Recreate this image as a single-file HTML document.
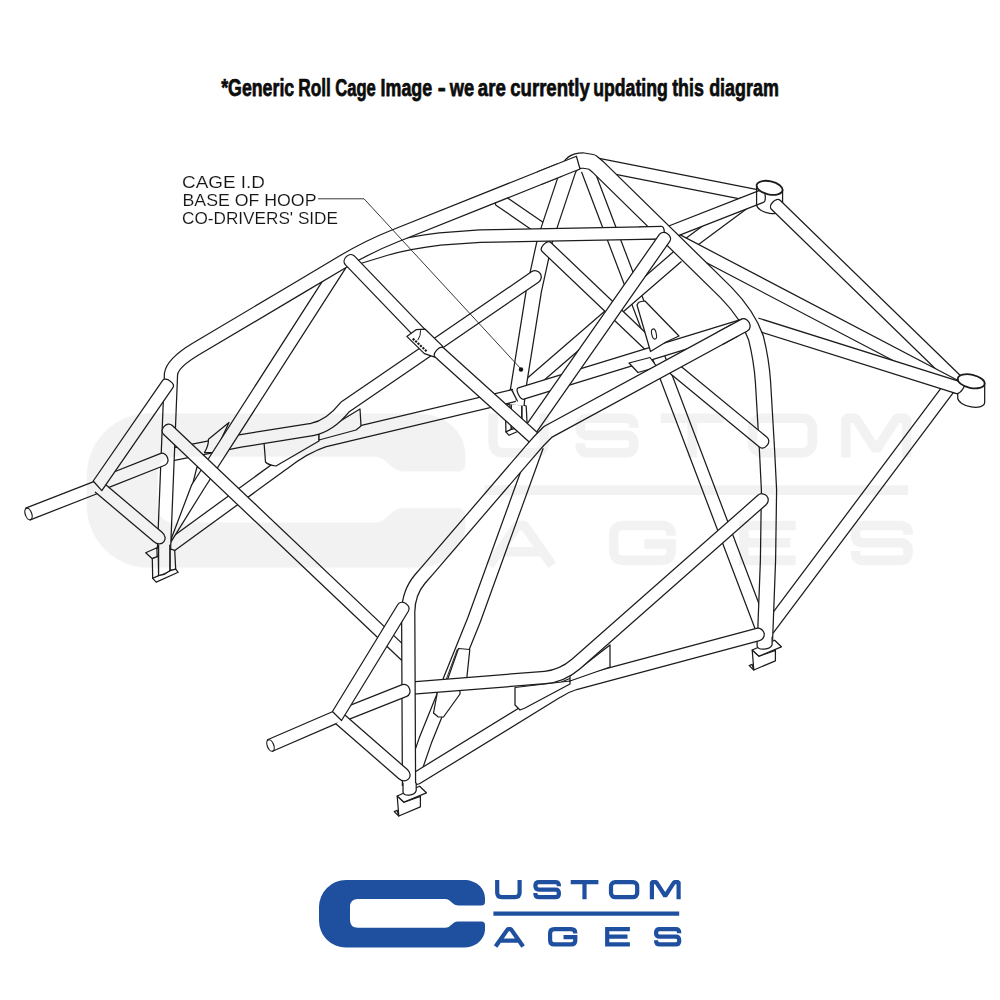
<!DOCTYPE html>
<html>
<head>
<meta charset="utf-8">
<title>Generic Roll Cage Image</title>
<style>
  html, body { margin: 0; padding: 0; background: #ffffff; }
  body { width: 1000px; height: 1000px; overflow: hidden; font-family: "Liberation Sans", sans-serif; }
  svg { display: block; }
  text { font-family: "Liberation Sans", sans-serif; }
</style>
</head>
<body>
<svg width="1000" height="1000" viewBox="0 0 1000 1000">
  <defs>
    <path id="logoC" d="M346 880 H464 C476 880 485 888 485 898 V902 Q485 905.4 481.5 905.4 H458 C452 905.4 451 899 445 899 H358 Q350 899 350 907 V920 Q350 927.8 358 927.8 H445 C451 927.8 452 921.4 458 921.4 H481.5 Q485 921.4 485 925 V929 C485 939 476 947.6 464 947.6 H346 A27 27 0 0 1 319 920.6 V907 A27 27 0 0 1 346 880 Z"/>
    <g id="logoT" fill="none" stroke-width="4.2" stroke-linejoin="miter" stroke-linecap="butt">
      <!-- USTOM -->
      <path d="M497.2 880 V892.6 Q497.2 897.2 501.8 897.2 H515 Q519.6 897.2 519.6 892.6 V880"/>
      <path d="M558.9 886.2 V885.6 Q558.9 882.1 555.4 882.1 H538.9 Q535.4 882.1 535.4 885.6 V886.1 Q535.4 889.6 538.9 889.6 H555.4 Q558.9 889.6 558.9 893.1 V893.7 Q558.9 897.2 555.4 897.2 H538.9 Q535.4 897.2 535.4 893.7 V893"/>
      <path d="M570.7 882.1 H598.4 M584.5 882.1 V899.3"/>
      <rect x="611" y="882.1" width="26.2" height="15.1" rx="4.2" ry="4.2"/>
      <path d="M651.9 899.3 V882.1 H656.2 L665.2 896 L674.2 882.1 H678.6 V899.3" stroke-linejoin="bevel"/>
      <!-- rule -->
      <path d="M493.4 913.6 H679.2"/>
      <!-- AGES -->
      <path d="M495.6 946.5 L507.8 929.1 H510.9 L523.1 946.5 M500.5 940.6 H518.2" stroke-linejoin="bevel"/>
      <path d="M575.3 933.6 V933.3 Q575.3 929.1 571.1 929.1 H554.3 Q550.1 929.1 550.1 933.3 V940.2 Q550.1 944.4 554.3 944.4 H571.1 Q575.3 944.4 575.3 940.2 V937.2 H563.5"/>
      <path d="M629.9 929.1 H607.2 V944.4 H629.9 M607.2 936.7 H627.5"/>
      <path d="M679.2 933.2 V932.6 Q679.2 929.1 675.7 929.1 H659.6 Q656.1 929.1 656.1 932.6 V933.2 Q656.1 936.7 659.6 936.7 H675.7 Q679.2 936.7 679.2 940.2 V940.9 Q679.2 944.4 675.7 944.4 H659.6 Q656.1 944.4 656.1 940.9 V940.3"/>
    </g>
  </defs>

  <rect x="0" y="0" width="1000" height="1000" fill="#ffffff"/>

  <!-- heading -->
  <g font-size="24.2" font-weight="700" fill="#0c0c0c" stroke="#0c0c0c" stroke-width="0.75" stroke-linejoin="round">
    <text x="221.2" y="96" textLength="73.0" lengthAdjust="spacingAndGlyphs">*Generic</text>
    <text x="298.2" y="96" textLength="32.6" lengthAdjust="spacingAndGlyphs">Roll</text>
    <text x="335.2" y="96" textLength="40.6" lengthAdjust="spacingAndGlyphs">Cage</text>
    <text x="380.6" y="96" textLength="51.6" lengthAdjust="spacingAndGlyphs">Image</text>
    <text x="437.8" y="96" textLength="8.0" lengthAdjust="spacingAndGlyphs">-</text>
    <text x="449.8" y="96" textLength="24.4" lengthAdjust="spacingAndGlyphs">we</text>
    <text x="477.8" y="96" textLength="28.0" lengthAdjust="spacingAndGlyphs">are</text>
    <text x="510.2" y="96" textLength="79.6" lengthAdjust="spacingAndGlyphs">currently</text>
    <text x="593.2" y="96" textLength="74.6" lengthAdjust="spacingAndGlyphs">updating</text>
    <text x="672.2" y="96" textLength="31.6" lengthAdjust="spacingAndGlyphs">this</text>
    <text x="709.2" y="96" textLength="69.6" lengthAdjust="spacingAndGlyphs">diagram</text>
  </g>

  <!-- cage -->
  <g id="cage">
<path d="M596.79 170.63 L758.79 202.53 L761.21 190.27 L599.21 158.37 Z" fill="#fff" stroke="none"/>
<path d="M596.79 170.63 L758.79 202.53 M761.21 190.27 L599.21 158.37 " fill="none" stroke="#1c1c1c" stroke-width="1.25" stroke-linejoin="round" stroke-linecap="round"/>
<path d="M687.72 252.52 L747.72 208.02 L740.28 197.98 L680.28 242.48 Z" fill="#fff" stroke="none"/>
<path d="M687.72 252.52 L747.72 208.02 M740.28 197.98 L680.28 242.48 " fill="none" stroke="#1c1c1c" stroke-width="1.25" stroke-linejoin="round" stroke-linecap="round"/>
<path d="M756.62 185.75 L756.62 204.75 A13.2 6.6 12 0 0 782.58 208.85 L782.58 189.85 Z" fill="#fff" stroke="#1c1c1c" stroke-width="1.25" stroke-linejoin="round"/>
<path d="M666.28 240.42 L763.38 202.37 C766.88 201.00 765.11 188.27 761.62 189.63 L661.72 228.78 Z" fill="#fff" stroke="none"/>
<path d="M666.28 240.42 L763.38 202.37 C766.88 201.00 765.11 188.27 761.62 189.63 L661.72 228.78 " fill="none" stroke="#1c1c1c" stroke-width="1.25" stroke-linejoin="round" stroke-linecap="round"/>
<ellipse cx="769.6" cy="187.8" rx="13.2" ry="6.6" transform="rotate(12 769.6 187.8)" fill="#fff" stroke="#1c1c1c" stroke-width="1.8"/>
<path d="M756.6 186.0 L756.6 204.5" fill="none" stroke="#1c1c1c" stroke-width="1.25" stroke-linecap="round" stroke-linejoin="round"/>
<path d="M771.64 209.48 L953.64 386.48 L962.36 377.52 L780.36 200.52 C776.18 196.45 767.46 205.41 771.64 209.48Z" fill="#fff" stroke="none"/>
<path d="M771.64 209.48 L953.64 386.48 M962.36 377.52 L780.36 200.52 C776.18 196.45 767.46 205.41 771.64 209.48" fill="none" stroke="#1c1c1c" stroke-width="1.25" stroke-linejoin="round" stroke-linecap="round"/>
<path d="M674.47 245.97 L955.10 393.04 L960.90 381.96 L680.27 234.89 Z" fill="#fff" stroke="none"/>
<path d="M674.47 245.97 L955.10 393.04 M960.90 381.96 L680.27 234.89 " fill="none" stroke="#1c1c1c" stroke-width="1.25" stroke-linejoin="round" stroke-linecap="round"/>
<path d="M943.10 385.45 L763.30 625.35 L773.30 632.85 L953.10 392.95 Z" fill="#fff" stroke="none"/>
<path d="M943.10 385.45 L763.30 625.35 M773.30 632.85 L953.10 392.95 " fill="none" stroke="#1c1c1c" stroke-width="1.25" stroke-linejoin="round" stroke-linecap="round"/>
<path d="M957.73 379.12 L957.73 398.12 A13.7 6.6 12 0 0 984.67 402.48 L984.67 383.48 Z" fill="#fff" stroke="#1c1c1c" stroke-width="1.25" stroke-linejoin="round"/>
<path d="M755.12 330.16 L955.71 393.36 C960.09 394.74 967.66 384.02 963.29 382.64 L758.88 318.24 Z" fill="#fff" stroke="none"/>
<path d="M755.12 330.16 L955.71 393.36 C960.09 394.74 967.66 384.02 963.29 382.64 L758.88 318.24 " fill="none" stroke="#1c1c1c" stroke-width="1.25" stroke-linejoin="round" stroke-linecap="round"/>
<ellipse cx="971.2" cy="381.3" rx="13.7" ry="6.6" transform="rotate(12 971.2 381.3)" fill="#fff" stroke="#1c1c1c" stroke-width="1.8"/>
<path d="M581.66 172.22 L757.16 634.22 L768.84 629.78 L593.34 167.78 Z" fill="#fff" stroke="none"/>
<path d="M581.66 172.22 L757.16 634.22 M768.84 629.78 L593.34 167.78 " fill="none" stroke="#1c1c1c" stroke-width="1.25" stroke-linejoin="round" stroke-linecap="round"/>
<path d="M672.91 252.27 L517.91 386.27 L526.09 395.73 L681.09 261.73 Z" fill="#fff" stroke="none"/>
<path d="M672.91 252.27 L517.91 386.27 M526.09 395.73 L681.09 261.73 " fill="none" stroke="#1c1c1c" stroke-width="1.25" stroke-linejoin="round" stroke-linecap="round"/>
<path d="M521.9 404.7 L526.2 406.0 L527.1 423.4 L521.9 424.7 Z" fill="#fff" stroke="#1c1c1c" stroke-width="1.25" stroke-linejoin="round" stroke-linecap="round"/>
<path d="M505.9 431.8 L511.3 429.2 L521.9 424.7 L527.1 423.4 L529.4 426.3 L509.1 435.3 Z" fill="#fff" stroke="#1c1c1c" stroke-width="1.25" stroke-linejoin="round" stroke-linecap="round"/>
<path d="M499.5 408.2 L509.8 403.7 L510.1 412.2 L505.6 413.8 Z" fill="#fff" stroke="#1c1c1c" stroke-width="1.25" stroke-linejoin="round" stroke-linecap="round"/>
<path d="M505.6 413.8 L511.1 411.5 L511.3 429.2 L505.9 431.8 Z" fill="#fff" stroke="#1c1c1c" stroke-width="1.25" stroke-linejoin="round" stroke-linecap="round"/>
<path d="M511.3 401.2 L511.3 429.3 L521.7 424.8 L521.7 401.2 Z" fill="#fff" stroke="none"/>
<path d="M511.3 401.2 L511.3 429.3" fill="none" stroke="#1c1c1c" stroke-width="1.25" stroke-linecap="round" stroke-linejoin="round"/>
<path d="M521.7 424.8 L521.7 401.2" fill="none" stroke="#1c1c1c" stroke-width="1.25" stroke-linecap="round" stroke-linejoin="round"/>
<path d="M511.3 429.3 L516.5 428.2 L521.7 424.8" fill="none" stroke="#1c1c1c" stroke-width="1.25" stroke-linecap="round" stroke-linejoin="round"/>
<path d="M495.96 205.15 L542.46 237.15 L549.54 226.85 L503.04 194.85 C500.64 193.20 493.55 203.50 495.96 205.15Z" fill="#fff" stroke="none"/>
<path d="M495.96 205.15 L542.46 237.15 M549.54 226.85 L503.04 194.85 C500.64 193.20 493.55 203.50 495.96 205.15" fill="none" stroke="#1c1c1c" stroke-width="1.25" stroke-linejoin="round" stroke-linecap="round"/>
<path d="M516.5 405.0 L518.0 390.0 L534.0 290.0 L545.0 240.0 L550.0 225.0 L565.0 180.0 L568.0 171.0 Q571.0 160.5 583.0 160.5 L592.0 162.0 L598.0 167.0 L726.0 292.5 Q748.0 315.0 756.0 338.0 Q761.5 360.0 763.0 382.0 L767.0 450.0 L769.0 490.0 L768.0 560.0 L765.0 640.0" fill="none" stroke="#1c1c1c" stroke-width="16.45" stroke-linecap="butt" stroke-linejoin="round"/>
<path d="M516.5 405.0 L518.0 390.0 L534.0 290.0 L545.0 240.0 L550.0 225.0 L565.0 180.0 L568.0 171.0 Q571.0 160.5 583.0 160.5 L592.0 162.0 L598.0 167.0 L726.0 292.5 Q748.0 315.0 756.0 338.0 Q761.5 360.0 763.0 382.0 L767.0 450.0 L769.0 490.0 L768.0 560.0 L765.0 640.0" fill="none" stroke="#fff" stroke-width="13.95" stroke-linecap="butt" stroke-linejoin="round"/>
<path d="M749.2 665.6 L752.2 664.4 L753.8 670.0 Z" fill="#fff" stroke="#1c1c1c" stroke-width="1.25" stroke-linejoin="round" stroke-linecap="round"/>
<path d="M752.2 650.0 L759.0 656.2 L775.4 650.3 L775.4 660.8 L753.8 670.0 Z" fill="#fff" stroke="#1c1c1c" stroke-width="1.25" stroke-linejoin="round" stroke-linecap="round"/>
<path d="M752.2 650.0 L774.6 640.2 L781.4 646.8 L759.0 656.2 Z" fill="#fff" stroke="#1c1c1c" stroke-width="1.25" stroke-linejoin="round" stroke-linecap="round"/>
<path d="M757.10 637.20 L757.10 646.00 C757.60 650.40 770.60 650.20 772.10 644.60 L772.10 637.20 Z" fill="#fff" stroke="none"/>
<path d="M757.10 637.20 L757.10 646.00 C757.60 650.40 770.60 650.20 772.10 644.60 L772.10 637.20" fill="none" stroke="#1c1c1c" stroke-width="1.25" stroke-linejoin="round" stroke-linecap="round"/>
<path d="M542.19 251.53 L647.69 352.03 L656.31 342.97 L550.81 242.47 C547.19 239.03 538.57 248.08 542.19 251.53Z" fill="#fff" stroke="none"/>
<path d="M542.19 251.53 L647.69 352.03 M656.31 342.97 L550.81 242.47 C547.19 239.03 538.57 248.08 542.19 251.53" fill="none" stroke="#1c1c1c" stroke-width="1.25" stroke-linejoin="round" stroke-linecap="round"/>
<path d="M523.79 399.18 L745.84 330.97 C752.61 328.89 748.94 316.95 742.16 319.03 L518.21 387.82 C514.62 388.92 520.21 400.28 523.79 399.18Z" fill="#fff" stroke="none"/>
<path d="M523.79 399.18 L745.84 330.97 C752.61 328.89 748.94 316.95 742.16 319.03 L518.21 387.82 C514.62 388.92 520.21 400.28 523.79 399.18" fill="none" stroke="#1c1c1c" stroke-width="1.25" stroke-linejoin="round" stroke-linecap="round"/>
<path d="M637.0 305.0 Q638.0 302.0 641.0 301.5 L645.0 301.0 L679.0 336.0 L666.0 342.0 L650.5 351.5 Z" fill="#fff" stroke="#1c1c1c" stroke-width="1.25" stroke-linejoin="round" stroke-linecap="round"/>
<ellipse cx="654" cy="334" rx="2.3" ry="5.2" transform="rotate(-12 654 334)" fill="#fff" stroke="#1c1c1c" stroke-width="1.1"/>
<path d="M629.0 363.0 L650.0 357.5 L657.0 367.0 L638.0 372.5 Z" fill="#fff" stroke="#1c1c1c" stroke-width="1.25" stroke-linejoin="round" stroke-linecap="round"/>
<path d="M668.02 371.82 L759.02 446.82 C764.49 451.33 772.44 441.68 766.98 437.18 L675.98 362.18 Z" fill="#fff" stroke="none"/>
<path d="M668.02 371.82 L759.02 446.82 C764.49 451.33 772.44 441.68 766.98 437.18 L675.98 362.18 L668.02 371.82" fill="none" stroke="#1c1c1c" stroke-width="1.25" stroke-linejoin="round" stroke-linecap="round"/>
<path d="M349.0 260.5 L385.0 249.5 Q410.0 242.5 440.0 239.0 L480.0 236.2 L655.0 232.8" fill="none" stroke="#1c1c1c" stroke-width="13.75" stroke-linecap="butt" stroke-linejoin="round"/>
<path d="M349.0 260.5 L385.0 249.5 Q410.0 242.5 440.0 239.0 L480.0 236.2 L655.0 232.8" fill="none" stroke="#fff" stroke-width="11.25" stroke-linecap="butt" stroke-linejoin="round"/>
<path d="M640.12 239.35 L661.62 238.95 C665.37 238.88 665.13 226.38 661.38 226.45 L639.88 226.85 Z" fill="#fff" stroke="none"/>
<path d="M640.12 239.35 L661.62 238.95 C665.37 238.88 665.13 226.38 661.38 226.45 L639.88 226.85 " fill="none" stroke="#1c1c1c" stroke-width="1.25" stroke-linejoin="round" stroke-linecap="round"/>
<path d="M659.38 234.42 L523.88 428.42 L534.12 435.58 L669.62 241.58 C673.68 235.77 663.43 228.61 659.38 234.42Z" fill="#fff" stroke="none"/>
<path d="M659.38 234.42 L523.88 428.42 M534.12 435.58 L669.62 241.58 C673.68 235.77 663.43 228.61 659.38 234.42" fill="none" stroke="#1c1c1c" stroke-width="1.25" stroke-linejoin="round" stroke-linecap="round"/>
<path d="M169.0 547.0 L283.0 464.0 Q305.0 447.0 325.0 440.5 L514.4 395.4" fill="none" stroke="#1c1c1c" stroke-width="13.75" stroke-linecap="butt" stroke-linejoin="round"/>
<path d="M169.0 547.0 L283.0 464.0 Q305.0 447.0 325.0 440.5 L514.4 395.4" fill="none" stroke="#fff" stroke-width="11.25" stroke-linecap="butt" stroke-linejoin="round"/>
<path d="M511.4 389.4 L517.4 401.0" fill="none" stroke="#1c1c1c" stroke-width="1.25" stroke-linecap="round" stroke-linejoin="round"/>
<path d="M264.0 442.0 L319.0 433.0 L319.0 441.0 L276.0 466.0 Q268.0 465.0 265.5 462.0 Z" fill="#fff" stroke="#1c1c1c" stroke-width="1.25" stroke-linejoin="round" stroke-linecap="round"/>
<path d="M319.0 434.0 L360.0 409.0 L361.0 426.0 L356.0 430.0 L319.0 440.0 Z" fill="#fff" stroke="#1c1c1c" stroke-width="1.25" stroke-linejoin="round" stroke-linecap="round"/>
<path d="M172.0 454.5 L240.0 441.0 L312.0 429.5 Q330.0 426.0 345.0 407.0 L535.0 277.0" fill="none" stroke="#1c1c1c" stroke-width="13.75" stroke-linecap="round" stroke-linejoin="round"/>
<path d="M172.0 454.5 L240.0 441.0 L312.0 429.5 Q330.0 426.0 345.0 407.0 L535.0 277.0" fill="none" stroke="#fff" stroke-width="11.25" stroke-linecap="round" stroke-linejoin="round"/>
<path d="M229.0 422.5 L208.5 439.3 Q208.5 446.0 204.5 452.5 L215.0 452.5 Z" fill="#fff" stroke="#1c1c1c" stroke-width="1.25" stroke-linejoin="round" stroke-linecap="round"/>
<path d="M197.0 467.0 L192.8 483.4 L204.0 470.0 Z" fill="#fff" stroke="#1c1c1c" stroke-width="1.25" stroke-linejoin="round" stroke-linecap="round"/>
<path d="M334.98 261.57 L191.74 484.72 L202.26 491.48 L345.50 268.33 Z" fill="#fff" stroke="none"/>
<path d="M334.98 261.57 L191.74 484.72 M202.26 491.48 L345.50 268.33 " fill="none" stroke="#1c1c1c" stroke-width="1.25" stroke-linejoin="round" stroke-linecap="round"/>
<path d="M191.7 484.7 L168.8 545.3 L202.3 491.5 Z" fill="#fff" stroke="none"/>
<path d="M191.7 484.7 L168.8 545.3 L202.3 491.5" fill="none" stroke="#1c1c1c" stroke-width="1.25" stroke-linecap="round" stroke-linejoin="round"/>
<path d="M164.0 549.0 L171.0 374.0 Q172.5 363.0 196.0 348.9 L300.0 287.2 L344.0 261.0 Q368.3 246.5 395.0 235.9 L560.0 169.9" fill="none" stroke="#1c1c1c" stroke-width="14.45" stroke-linecap="butt" stroke-linejoin="round"/>
<path d="M164.0 549.0 L171.0 374.0 Q172.5 363.0 196.0 348.9 L300.0 287.2 L344.0 261.0 Q368.3 246.5 395.0 235.9 L560.0 169.9" fill="none" stroke="#fff" stroke-width="11.95" stroke-linecap="butt" stroke-linejoin="round"/>
<path d="M542.45 184.03 L580.00 168.99 L576.40 156.21 L537.55 171.77 Z" fill="#fff" stroke="none"/>
<path d="M542.45 184.03 L580.00 168.99 L576.40 156.21 L537.55 171.77 " fill="none" stroke="#1c1c1c" stroke-width="1.25" stroke-linejoin="round" stroke-linecap="round"/>
<path d="M170.1 548.9 L174.7 550.3 L175.7 569.2 L170.1 570.6 Z" fill="#fff" stroke="#1c1c1c" stroke-width="1.25" stroke-linejoin="round" stroke-linecap="round"/>
<path d="M152.7 578.3 L158.6 575.5 L170.1 570.6 L175.7 569.2 L178.2 572.3 L156.2 582.1 Z" fill="#fff" stroke="#1c1c1c" stroke-width="1.25" stroke-linejoin="round" stroke-linecap="round"/>
<path d="M145.7 552.7 L156.9 547.8 L157.2 557.0 L152.3 558.7 Z" fill="#fff" stroke="#1c1c1c" stroke-width="1.25" stroke-linejoin="round" stroke-linecap="round"/>
<path d="M152.3 558.7 L158.3 556.2 L158.6 575.5 L152.7 578.3 Z" fill="#fff" stroke="#1c1c1c" stroke-width="1.25" stroke-linejoin="round" stroke-linecap="round"/>
<path d="M158.6 545.0 L158.6 575.6 L169.8 570.7 L169.8 545.0 Z" fill="#fff" stroke="none"/>
<path d="M158.6 545.0 L158.6 575.6" fill="none" stroke="#1c1c1c" stroke-width="1.25" stroke-linecap="round" stroke-linejoin="round"/>
<path d="M169.8 570.7 L169.8 545.0" fill="none" stroke="#1c1c1c" stroke-width="1.25" stroke-linecap="round" stroke-linejoin="round"/>
<path d="M158.6 575.6 L164.2 574.4 L169.8 570.7" fill="none" stroke="#1c1c1c" stroke-width="1.25" stroke-linecap="round" stroke-linejoin="round"/>
<path d="M345.49 264.83 L432.49 355.33 L441.51 346.67 L354.51 256.17 C349.60 251.06 340.59 259.72 345.49 264.83Z" fill="#fff" stroke="none"/>
<path d="M345.49 264.83 L432.49 355.33 M441.51 346.67 L354.51 256.17 C349.60 251.06 340.59 259.72 345.49 264.83" fill="none" stroke="#1c1c1c" stroke-width="1.25" stroke-linejoin="round" stroke-linecap="round"/>
<path d="M406.8 336.4 L416.4 329.6 L425.2 329.2 L442.8 346.4 L434.8 357.2 L424.4 353.6 Z" fill="#fff" stroke="#1c1c1c" stroke-width="1.25" stroke-linejoin="round" stroke-linecap="round"/>
<path d="M418.0 339.8 Q420.8 336.0 420.6 330.6" fill="none" stroke="#1c1c1c" stroke-width="1.00" stroke-linecap="round" stroke-linejoin="round"/>
<path d="M412.8 338.6 L426.6 351.2" stroke="#1c1c1c" stroke-width="2.2" stroke-dasharray="2.2 1.1" fill="none"/>
<path d="M435.31 357.24 L532.54 444.95 L540.91 435.67 L443.69 347.96 C439.97 344.61 431.60 353.89 435.31 357.24Z" fill="#fff" stroke="none"/>
<path d="M435.31 357.24 L532.54 444.95 M540.91 435.67 L443.69 347.96 C439.97 344.61 431.60 353.89 435.31 357.24" fill="none" stroke="#1c1c1c" stroke-width="1.25" stroke-linejoin="round" stroke-linecap="round"/>
<path d="M163.70 434.53 L401.33 659.98 L409.93 650.91 L172.30 425.47 C167.16 420.59 158.56 429.66 163.70 434.53Z" fill="#fff" stroke="none"/>
<path d="M163.70 434.53 L401.33 659.98 M409.93 650.91 L172.30 425.47 C167.16 420.59 158.56 429.66 163.70 434.53" fill="none" stroke="#1c1c1c" stroke-width="1.25" stroke-linejoin="round" stroke-linecap="round"/>
<path d="M30.28 519.82 L100.88 492.22 L96.32 480.58 L25.72 508.18 Z" fill="#fff" stroke="none"/>
<path d="M30.28 519.82 L100.88 492.22 M96.32 480.58 L25.72 508.18 " fill="none" stroke="#1c1c1c" stroke-width="1.25" stroke-linejoin="round" stroke-linecap="round"/>
<ellipse cx="28.5" cy="514" rx="3.2" ry="6.0" transform="rotate(-20 28.5 514)" fill="#fff" stroke="#1c1c1c" stroke-width="1.25"/>
<path d="M103.30 489.61 L164.80 465.21 C171.39 462.60 166.78 450.98 160.20 453.59 L98.70 477.99 Z" fill="#fff" stroke="none"/>
<path d="M103.30 489.61 L164.80 465.21 C171.39 462.60 166.78 450.98 160.20 453.59 L98.70 477.99 " fill="none" stroke="#1c1c1c" stroke-width="1.25" stroke-linejoin="round" stroke-linecap="round"/>
<path d="M95.37 492.27 L153.97 541.77 C161.61 548.23 169.67 538.68 162.03 532.23 L103.43 482.73 Z" fill="#fff" stroke="none"/>
<path d="M95.37 492.27 L153.97 541.77 C161.61 548.23 169.67 538.68 162.03 532.23 L103.43 482.73 " fill="none" stroke="#1c1c1c" stroke-width="1.25" stroke-linejoin="round" stroke-linecap="round"/>
<path d="M101.79 490.59 L172.94 387.55 C175.78 383.44 165.50 376.33 162.66 380.45 L93.21 481.01 Z" fill="#fff" stroke="none"/>
<path d="M101.79 490.59 L172.94 387.55 C175.78 383.44 165.50 376.33 162.66 380.45 L93.21 481.01 L101.79 490.59" fill="none" stroke="#1c1c1c" stroke-width="1.25" stroke-linejoin="round" stroke-linecap="round"/>
<path d="M412.0 779.0 L425.5 740.0 L474.0 620.0 L537.0 446.0" fill="none" stroke="#1c1c1c" stroke-width="14.45" stroke-linecap="butt" stroke-linejoin="round"/>
<path d="M412.0 779.0 L425.5 740.0 L474.0 620.0 L537.0 446.0" fill="none" stroke="#fff" stroke-width="11.95" stroke-linecap="butt" stroke-linejoin="round"/>
<path d="M457.2 649.5 L446.0 680.0" fill="none" stroke="#1c1c1c" stroke-width="0.90" stroke-linecap="round" stroke-linejoin="round"/>
<path d="M440.0 696.0 L434.5 711.0" fill="none" stroke="#1c1c1c" stroke-width="0.90" stroke-linecap="round" stroke-linejoin="round"/>
<path d="M458.5 648.5 L469.8 649.5 L466.6 680.0 L447.0 681.0 Z" fill="#fff" stroke="#1c1c1c" stroke-width="1.25" stroke-linejoin="round" stroke-linecap="round"/>
<path d="M438.0 689.0 L460.0 689.0 L460.0 694.0 L443.5 717.0 L438.0 716.8 L433.5 713.0 Z" fill="#fff" stroke="#1c1c1c" stroke-width="1.25" stroke-linejoin="round" stroke-linecap="round"/>
<path d="M417.0 778.0 L557.0 692.0 Q565.0 686.5 575.0 683.5 L758.0 634.5" fill="none" stroke="#1c1c1c" stroke-width="13.75" stroke-linecap="round" stroke-linejoin="round"/>
<path d="M417.0 778.0 L557.0 692.0 Q565.0 686.5 575.0 683.5 L758.0 634.5" fill="none" stroke="#fff" stroke-width="11.25" stroke-linecap="round" stroke-linejoin="round"/>
<path d="M515.0 687.5 L570.0 681.0 L570.0 684.0 L525.0 708.0 L520.0 710.0 L515.0 705.0 Z" fill="#fff" stroke="#1c1c1c" stroke-width="1.25" stroke-linejoin="round" stroke-linecap="round"/>
<path d="M570.0 676.0 L610.0 645.0 L610.0 667.0 L570.0 681.0 Z" fill="#fff" stroke="#1c1c1c" stroke-width="1.25" stroke-linejoin="round" stroke-linecap="round"/>
<path d="M413.0 688.0 L545.0 677.5 Q562.0 676.0 576.0 664.0 L762.0 500.0" fill="none" stroke="#1c1c1c" stroke-width="13.75" stroke-linecap="round" stroke-linejoin="round"/>
<path d="M413.0 688.0 L545.0 677.5 Q562.0 676.0 576.0 664.0 L762.0 500.0" fill="none" stroke="#fff" stroke-width="11.25" stroke-linecap="round" stroke-linejoin="round"/>
<path d="M409.0 786.0 L408.2 612.0 Q408.5 592.6 420.0 579.0 L427.0 571.0 L531.0 450.0 Q538.5 441.0 548.0 431.8 L735.0 330.2" fill="none" stroke="#1c1c1c" stroke-width="14.45" stroke-linecap="butt" stroke-linejoin="round"/>
<path d="M409.0 786.0 L408.2 612.0 Q408.5 592.6 420.0 579.0 L427.0 571.0 L531.0 450.0 Q538.5 441.0 548.0 431.8 L735.0 330.2" fill="none" stroke="#fff" stroke-width="11.95" stroke-linecap="butt" stroke-linejoin="round"/>
<path d="M723.14 344.10 L747.34 331.00 C753.92 327.44 747.64 315.83 741.06 319.40 L716.86 332.50 Z" fill="#fff" stroke="none"/>
<path d="M723.14 344.10 L747.34 331.00 C753.92 327.44 747.64 315.83 741.06 319.40 L716.86 332.50 " fill="none" stroke="#1c1c1c" stroke-width="1.25" stroke-linejoin="round" stroke-linecap="round"/>
<path d="M394.2 811.6 L397.2 810.4 L398.8 816.0 Z" fill="#fff" stroke="#1c1c1c" stroke-width="1.25" stroke-linejoin="round" stroke-linecap="round"/>
<path d="M397.2 796.0 L404.0 802.2 L420.4 796.3 L420.4 806.8 L398.8 816.0 Z" fill="#fff" stroke="#1c1c1c" stroke-width="1.25" stroke-linejoin="round" stroke-linecap="round"/>
<path d="M397.2 796.0 L419.6 786.2 L426.4 792.8 L404.0 802.2 Z" fill="#fff" stroke="#1c1c1c" stroke-width="1.25" stroke-linejoin="round" stroke-linecap="round"/>
<path d="M403.00 783.20 L403.00 792.00 C403.50 796.40 414.70 796.20 416.20 790.60 L416.20 783.20 Z" fill="#fff" stroke="none"/>
<path d="M403.00 783.20 L403.00 792.00 C403.50 796.40 414.70 796.20 416.20 790.60 L416.20 783.20" fill="none" stroke="#1c1c1c" stroke-width="1.25" stroke-linejoin="round" stroke-linecap="round"/>
<path d="M272.48 751.24 L340.28 721.94 L335.32 710.46 L267.52 739.76 Z" fill="#fff" stroke="none"/>
<path d="M272.48 751.24 L340.28 721.94 M335.32 710.46 L267.52 739.76 " fill="none" stroke="#1c1c1c" stroke-width="1.25" stroke-linejoin="round" stroke-linecap="round"/>
<ellipse cx="270.5" cy="745.5" rx="3.2" ry="6.0" transform="rotate(-22 270.5 745.5)" fill="#fff" stroke="#1c1c1c" stroke-width="1.25"/>
<path d="M346.30 720.31 L406.80 696.31 C413.39 693.70 408.78 682.08 402.20 684.69 L341.70 708.69 Z" fill="#fff" stroke="none"/>
<path d="M346.30 720.31 L406.80 696.31 C413.39 693.70 408.78 682.08 402.20 684.69 L341.70 708.69 " fill="none" stroke="#1c1c1c" stroke-width="1.25" stroke-linejoin="round" stroke-linecap="round"/>
<path d="M336.09 724.01 L398.89 778.71 C406.44 785.28 414.65 775.86 407.11 769.29 L344.31 714.59 Z" fill="#fff" stroke="none"/>
<path d="M336.09 724.01 L398.89 778.71 C406.44 785.28 414.65 775.86 407.11 769.29 L344.31 714.59 " fill="none" stroke="#1c1c1c" stroke-width="1.25" stroke-linejoin="round" stroke-linecap="round"/>
<path d="M341.55 720.54 L408.33 611.26 C412.03 605.21 401.36 598.70 397.67 604.74 L332.45 711.46 Z" fill="#fff" stroke="none"/>
<path d="M341.55 720.54 L408.33 611.26 C412.03 605.21 401.36 598.70 397.67 604.74 L332.45 711.46 L341.55 720.54" fill="none" stroke="#1c1c1c" stroke-width="1.25" stroke-linejoin="round" stroke-linecap="round"/>
  </g>

  <!-- faint brand watermark laid over the drawing -->
  <g id="watermark" opacity="0.052">
    <use href="#logoC" fill="#000" transform="matrix(2.28 0 0 2.28 -640.5 -1592.9)"/>
    <use href="#logoT" stroke="#000" transform="matrix(2.28 0 0 2.28 -640.5 -1592.9)"/>
  </g>

  <!-- call-out label -->
  <g fill="#151515" font-size="16.4" stroke="#fff" stroke-width="0.12">
    <text x="182" y="187.5" textLength="83" lengthAdjust="spacingAndGlyphs">CAGE I.D</text>
    <text x="182.5" y="205.8" textLength="134" lengthAdjust="spacingAndGlyphs">BASE OF HOOP</text>
    <text x="182" y="223.8" textLength="156" lengthAdjust="spacingAndGlyphs">CO-DRIVERS' SIDE</text>
  </g>
  <path d="M318 198.8 H364 L521 369" fill="none" stroke="#222" stroke-width="0.9"/>
  <circle cx="521" cy="369.5" r="2.2" fill="#111"/>

  <!-- brand logo -->
  <g id="logo">
    <use href="#logoC" fill="#1f509f"/>
    <use href="#logoT" stroke="#1f509f"/>
  </g>
</svg>
</body>
</html>
